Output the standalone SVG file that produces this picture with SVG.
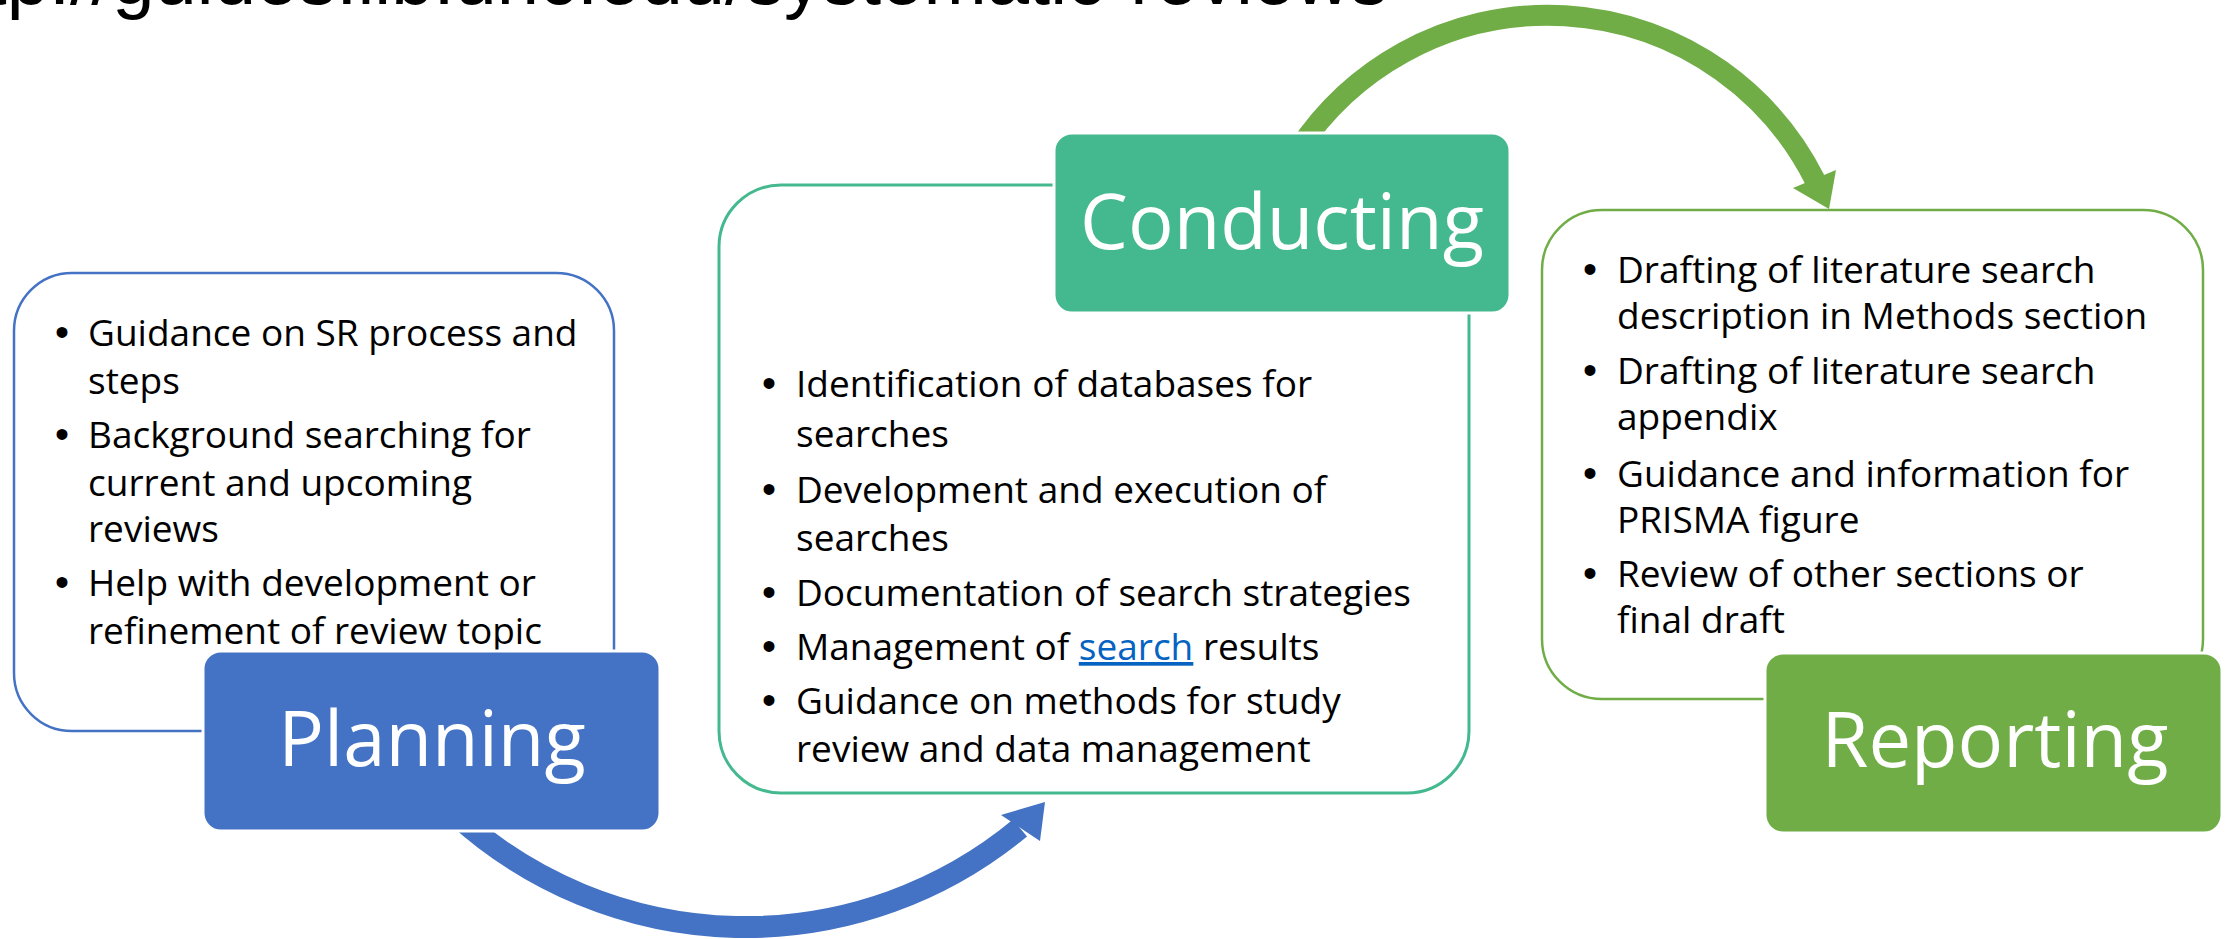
<svg xmlns="http://www.w3.org/2000/svg" width="2226" height="939" viewBox="0 0 2226 939">
  <style>
    .body { font-family: "Open Sans", "Liberation Sans", sans-serif; font-size: 37px; fill: #000000; }
    .bullet { font-family: "Liberation Sans", sans-serif; font-size: 40px; fill: #000000; text-anchor: middle; }
    .label { font-family: "Open Sans", "Liberation Sans", sans-serif; font-size: 76px; fill: #ffffff; text-anchor: middle; }
    .url { font-family: "Liberation Sans", sans-serif; font-size: 76px; fill: #000000; text-anchor: end; }
    .link { fill: #0563C1; text-decoration: underline; }
  </style>

  <text class="url" x="1388" y="4">http://guides.lib.unc.edu/systematic-reviews</text>

  <!-- Outline (detail) boxes -->
  <g id="planning-detail">
    <rect x="14" y="273" width="600" height="458" rx="58" ry="58" fill="#ffffff" stroke="#4472C4" stroke-width="2.5"/>
    <text class="bullet" x="62" y="346">•</text>
    <text class="body" x="88" y="346">Guidance on SR process and</text>
    <text class="body" x="88" y="394">steps</text>
    <text class="bullet" x="62" y="448">•</text>
    <text class="body" x="88" y="448">Background searching for</text>
    <text class="body" x="88" y="496">current and upcoming</text>
    <text class="body" x="88" y="542">reviews</text>
    <text class="bullet" x="62" y="596">•</text>
    <text class="body" x="88" y="596">Help with development or</text>
    <text class="body" x="88" y="644">refinement of review topic</text>
  </g>

  <g id="conducting-detail">
    <rect x="719" y="185" width="750" height="608" rx="62" ry="62" fill="#ffffff" stroke="#44B98F" stroke-width="3"/>
    <text class="bullet" x="769" y="397">•</text>
    <text class="body" x="796" y="397">Identification of databases for</text>
    <text class="body" x="796" y="447">searches</text>
    <text class="bullet" x="769" y="503">•</text>
    <text class="body" x="796" y="503">Development and execution of</text>
    <text class="body" x="796" y="551">searches</text>
    <text class="bullet" x="769" y="606">•</text>
    <text class="body" x="796" y="606">Documentation of search strategies</text>
    <text class="bullet" x="769" y="660">•</text>
    <text class="body" x="796" y="660">Management of <tspan class="link">search</tspan> results</text>
    <text class="bullet" x="769" y="714">•</text>
    <text class="body" x="796" y="714">Guidance on methods for study</text>
    <text class="body" x="796" y="762">review and data management</text>
  </g>

  <g id="reporting-detail">
    <rect x="1542" y="210" width="661" height="489" rx="60" ry="60" fill="#ffffff" stroke="#70AD47" stroke-width="2.5"/>
    <text class="bullet" x="1590" y="283">•</text>
    <text class="body" x="1617" y="283">Drafting of literature search</text>
    <text class="body" x="1617" y="329">description in Methods section</text>
    <text class="bullet" x="1590" y="384">•</text>
    <text class="body" x="1617" y="384">Drafting of literature search</text>
    <text class="body" x="1617" y="430">appendix</text>
    <text class="bullet" x="1590" y="487">•</text>
    <text class="body" x="1617" y="487">Guidance and information for</text>
    <text class="body" x="1617" y="533">PRISMA figure</text>
    <text class="bullet" x="1590" y="587">•</text>
    <text class="body" x="1617" y="587">Review of other sections or</text>
    <text class="body" x="1617" y="633">final draft</text>
  </g>

  <!-- Connectors -->
  <g id="connectors">
    <path d="M 456 815 A 430 430 0 0 0 1020 828" fill="none" stroke="#4472C4" stroke-width="22"/>
    <polygon points="1045,802 1001,815 1040,841" fill="#4472C4"/>
    <path d="M 1298 150 A 299 299 0 0 1 1815 180" fill="none" stroke="#70AD47" stroke-width="21"/>
    <polygon points="1829,209 1793,188 1836,170" fill="#70AD47"/>
  </g>

  <!-- Stage nodes -->
  <g id="planning">
    <rect x="203" y="651" width="457" height="180" rx="18" ry="18" fill="#4472C4" stroke="#ffffff" stroke-width="3"/>
    <text class="label" x="432" y="766">Planning</text>
  </g>
  <g id="conducting">
    <rect x="1054" y="133" width="456" height="180" rx="18" ry="18" fill="#44B98F" stroke="#ffffff" stroke-width="3"/>
    <text class="label" x="1282" y="249">Conducting</text>
  </g>
  <g id="reporting">
    <rect x="1765" y="653" width="457" height="180" rx="18" ry="18" fill="#70AD47" stroke="#ffffff" stroke-width="3"/>
    <text class="label" x="1995" y="767">Reporting</text>
  </g>
</svg>
